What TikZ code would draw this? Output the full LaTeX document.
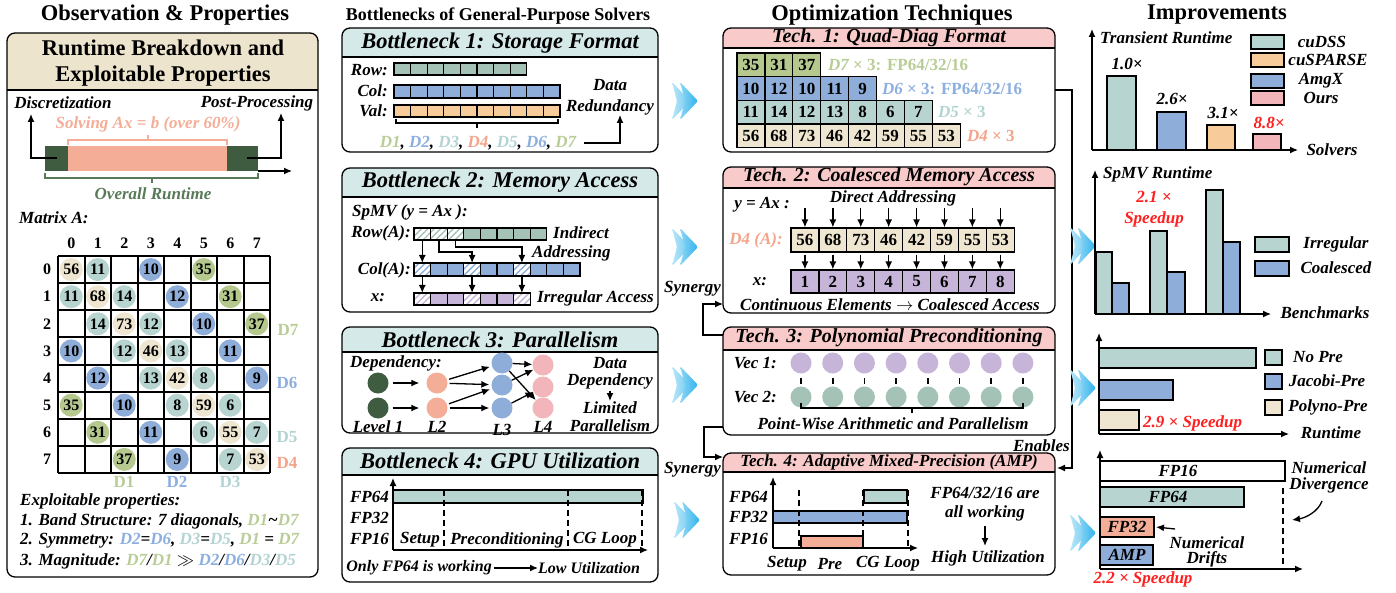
\documentclass[tikz,border=0pt]{standalone}
\usepackage{fontspec}
\setmainfont{Liberation Serif}
\usetikzlibrary{arrows.meta,patterns.meta,calc}
\definecolor{cDG}{HTML}{3F5B40}
\definecolor{cSal}{HTML}{F4AD97}
\definecolor{cSage}{HTML}{A4C2B5}
\definecolor{cBlue}{HTML}{8FADD9}
\definecolor{cOr}{HTML}{F8CB9B}
\definecolor{cPur}{HTML}{C6B5D8}
\definecolor{cPink}{HTML}{F2B5B9}
\definecolor{cTeal}{HTML}{B8D4D1}
\definecolor{cBeige}{HTML}{EFE6D1}
\definecolor{cOlive}{HTML}{B5C98F}
\definecolor{tD1}{HTML}{B9CD96}
\definecolor{tD2}{HTML}{8DAFE0}
\definecolor{tD3}{HTML}{B3D4D3}
\definecolor{tD4}{HTML}{F3A48B}
\definecolor{cGrT}{HTML}{587A58}
\definecolor{hBot}{HTML}{D5E9E9}
\definecolor{hTech}{HTML}{F8CACA}
\definecolor{hObs}{HTML}{EDE4CD}
\definecolor{cRed}{HTML}{FF1F1F}
\definecolor{cArr}{HTML}{2FB2EC}
\definecolor{cArrL}{HTML}{B8E6F8}
\newcommand{\fsz}[1]{\fontsize{#1}{#1}\selectfont}
\newcommand{\mypanel}[6]{%
  \begin{scope}
    \clip (#1,#2) rectangle (#3,#4);
    \fill[#6, rounded corners=8pt] (#1,#2) rectangle (#3,#5);
  \end{scope}
  \draw[line width=1.3pt] (#1,#4) -- (#3,#4);
  \draw[line width=1.3pt, rounded corners=8pt] (#1,#2) rectangle (#3,#5);
}
\newcommand{\chev}[2]{%
  \shade[left color=cArrL, right color=cArr!70, rounded corners=1.5pt] (#1-14,#2-19) -- (#1+4,#2) -- (#1-14,#2+19) -- (#1-9,#2) -- cycle;
  \shade[left color=cArrL!70!cArr, right color=cArr, rounded corners=1.5pt] (#1-6,#2-19) -- (#1+12,#2) -- (#1-6,#2+19) -- (#1-1,#2) -- cycle;
}
\begin{document}
\begin{tikzpicture}[x=1pt,y=-1pt,
 lb/.style={font=\bfseries\itshape\fsz{17}, inner sep=0pt},
 hb/.style={font=\bfseries\itshape\fsz{22.5}, inner sep=0pt},
 ht/.style={font=\bfseries\itshape\fsz{20}, inner sep=0pt},
 tt/.style={font=\bfseries\fsz{22.5}, inner sep=0pt},
 nm/.style={font=\bfseries\fsz{16}, inner sep=0pt},
 dl/.style={font=\bfseries\fsz{17}, inner sep=0pt},
 bx/.style={draw, line width=1.2pt},
 ar/.style={-{Latex[length=8pt,width=7pt]}, line width=1.3pt},
 dsh/.style={dash pattern=on 6pt off 4pt, line width=1.3pt},
 cellq/.style={draw, line width=1.2pt, minimum width=27.9pt, minimum height=23.7pt, inner sep=0pt, font=\bfseries\fsz{17}},
 mc/.style={circle, minimum size=23pt, inner sep=0pt, font=\bfseries\fsz{16}},
 dot/.style={circle, minimum size=21pt, inner sep=0pt},
 ]
\useasboundingbox (0,0) rectangle (1396,593);
\fill[white] (0,0) rectangle (1396,593);

% ---------- titles
\node[tt] (t1) at (165,15) {Observation \& Properties};
\node[font=\bfseries\fsz{18}, inner sep=0pt] (t2) at (498,16) {Bottlenecks of General-Purpose Solvers};
\node[tt] (t3) at (892,15) {Optimization Techniques};
\node[tt] (t4) at (1217,15) {Improvements};

% ---------- left panel
\mypanel{7}{33}{318}{90}{577}{hObs}
\node[tt] (h0a) at (163,48) {Runtime Breakdown and};
\node[tt] (h0b) at (163,76) {Exploitable Properties};

\fill[cDG] (45,146) rectangle (68,171);
\fill[cSal] (68,146) rectangle (227,171);
\fill[cDG] (227,146) rectangle (258,171);
\coordinate (dA) at (57,158);
\coordinate (dB) at (247,158);
\node[lb] (disc) at (63,103) {Discretization};
\node[lb] (post) at (257,103) {Post-Processing};
\draw[ar] (dA) -- (31,158) -- (31,114);
\draw[ar] (dB) -- (281,158) -- (281,113);
\coordinate (bE) at (258,171);
\draw[ar] (bE) -- (292,171);
\draw[cSal, line width=1.3pt] (68,145) -- (68,140) -- (227,140) -- (227,145);
\draw[cSal, line width=1.3pt] (148,140) -- (148,135);
\node[lb, text=cSal] (solv) at (148,124) {Solving Ax = b (over 60\%)};
\draw[cGrT, line width=1.3pt] (45,173) -- (45,178) -- (258,178) -- (258,173);
\draw[cGrT, line width=1.3pt] (152,178) -- (152,183);
\node[lb, text=cGrT] (overall) at (153,194) {Overall Runtime};

\node[lb, anchor=west] (matA) at (19,218) {Matrix A:};
\foreach \r/\c/\v/\cc in {0/0/56/cBeige,0/1/11/cTeal,0/3/10/cBlue,0/5/35/cOlive,
 1/0/11/cTeal,1/1/68/cBeige,1/2/14/cTeal,1/4/12/cBlue,1/6/31/cOlive,
 2/1/14/cTeal,2/2/73/cBeige,2/3/12/cTeal,2/5/10/cBlue,2/7/37/cOlive,
 3/0/10/cBlue,3/2/12/cTeal,3/3/46/cBeige,3/4/13/cTeal,3/6/11/cBlue,
 4/1/12/cBlue,4/3/13/cTeal,4/4/42/cBeige,4/5/8/cTeal,4/7/9/cBlue,
 5/0/35/cOlive,5/2/10/cBlue,5/4/8/cTeal,5/5/59/cBeige,5/6/6/cTeal,
 6/1/31/cOlive,6/3/11/cBlue,6/5/6/cTeal,6/6/55/cBeige,6/7/7/cTeal,
 7/2/37/cOlive,7/4/9/cBlue,7/6/7/cTeal,7/7/53/cBeige}
 {\node[mc, fill=\cc] (m\r\c) at (58+26.5*\c+13.25, 256+27.125*\r+13.56) {\v};}
\foreach \k in {0,...,8} {
 \draw[line width=2pt] (58+26.5*\k,256) -- (58+26.5*\k,473);
 \draw[line width=2pt] (58,256+27.125*\k) -- (270,256+27.125*\k);
}
\foreach \k in {0,...,7} {
 \node[nm] (cl\k) at (58+26.5*\k+13.25,243) {\k};
 \node[nm] (rl\k) at (47,256+27.125*\k+13.56) {\k};
}
\node[dl, text=tD1] (d7) at (288,330) {D7};
\node[dl, text=tD2] (d6) at (287,383) {D6};
\node[dl, text=tD3] (d5) at (287,437) {D5};
\node[dl, text=tD4] (d4) at (287,463) {D4};
\node[dl, text=tD1] (d1) at (124,482) {D1};
\node[dl, text=tD2] (d2) at (177,482) {D2};
\node[dl, text=tD3] (d3) at (230,482) {D3};

\node[lb, anchor=west] (ep0) at (20,501) {Exploitable properties:};
\node[lb, anchor=west] (ep1) at (20,521) {1. Band Structure: 7 diagonals, \textcolor{tD1}{D1}\textasciitilde\textcolor{tD1}{D7}};
\node[lb, anchor=west] (ep2) at (20,541) {2. Symmetry: \textcolor{tD2}{D2}=\textcolor{tD2}{D6}, \textcolor{tD3}{D3}=\textcolor{tD3}{D5}, \textcolor{tD1}{D1} = \textcolor{tD1}{D7}};
\node[lb, anchor=west] (ep3) at (20,561) {3. Magnitude: \textcolor{tD1}{D7}/\textcolor{tD1}{D1} $\gg$ \textcolor{tD2}{D2}/\textcolor{tD2}{D6}/\textcolor{tD3}{D3}/\textcolor{tD3}{D5}};

% ---------- Bottleneck 1
\mypanel{342}{28}{658}{57}{152}{hBot}
\node[hb] (b1h) at (500,43) {Bottleneck 1: Storage Format};
\node[lb, anchor=east] (rowl) at (388,70) {Row:};
\node[lb, anchor=east] (coll) at (388,91) {Col:};
\node[lb, anchor=east] (vall) at (388,111) {Val:};
\foreach \i in {0,...,7} \draw[bx, fill=cSage] (394+16.6*\i,63) rectangle ++(16.6,12);
\foreach \i in {0,...,9} \draw[bx, fill=cBlue] (394+16.6*\i,85) rectangle ++(16.6,13);
\foreach \i in {0,...,9} \draw[bx, fill=cOr] (394+16.6*\i,105) rectangle ++(16.6,12);
\draw[line width=1.3pt] (396,119) -- (396,123) -- (558,123) -- (558,119);
\draw[line width=1.3pt] (477,123) -- (477,128);
\node[lb] (dlist) at (478,143) {\textcolor{tD1}{D1}, \textcolor{tD2}{D2}, \textcolor{tD3}{D3}, \textcolor{tD4}{D4}, \textcolor{tD3}{D5}, \textcolor{tD2}{D6}, \textcolor{tD1}{D7}};
\node[lb] (dr1) at (610,85) {Data};
\node[lb] (dr2) at (610,107) {Redundancy};
\draw[ar] (dlist.east) ++(8,0) -- (620,143) -- (dr2.south -| 620,0);

% ---------- Bottleneck 2
\mypanel{342}{168}{658}{197}{312}{hBot}
\node[hb] (b2h) at (500,182) {Bottleneck 2: Memory Access};
\node[lb, anchor=west] (spmv) at (352,212) {SpMV (y = Ax ):};
\node[lb, anchor=east] (rowA) at (411,233) {Row(A):};
\node[lb, anchor=east] (colA) at (411,270) {Col(A):};
\node[lb] (xl) at (378,298) {x:};
\foreach \i in {0,...,7} \draw[bx, fill=cSage] (414+16.6*\i,228) rectangle ++(16.6,12);
\foreach \i in {0,1,2} {\fill[white] (414+16.6*\i,228) rectangle ++(16.6,12);
 \fill[pattern={Lines[angle=45,distance=4.5pt,line width=1.4pt]}, pattern color=cSage] (414+16.6*\i,228) rectangle ++(16.6,12);
 \draw[line width=1.2pt] (414+16.6*\i,228) rectangle ++(16.6,12);}
\foreach \i in {0,...,9} \draw[bx, fill=cBlue] (414+16.6*\i,263) rectangle ++(16.6,13);
\foreach \i in {0,3,6} {\fill[white] (414+16.6*\i,263) rectangle ++(16.6,13);
 \fill[pattern={Lines[angle=45,distance=4.5pt,line width=1.4pt]}, pattern color=cBlue] (414+16.6*\i,263) rectangle ++(16.6,13);
 \draw[line width=1.2pt] (414+16.6*\i,263) rectangle ++(16.6,13);}
\foreach \i in {0,...,6} \draw[bx, fill=cPur] (414+16.6*\i,293) rectangle ++(16.6,12);
\foreach \i in {0,3,6} {\fill[white] (414+16.6*\i,293) rectangle ++(16.6,12);
 \fill[pattern={Lines[angle=45,distance=4.5pt,line width=1.4pt]}, pattern color=cPur] (414+16.6*\i,293) rectangle ++(16.6,12);
 \draw[line width=1.2pt] (414+16.6*\i,293) rectangle ++(16.6,12);}
\draw[ar] (422.3,240) -- (422.3,263);
\draw[ar] (438.9,240) -- (438.9,252) -- (472.1,252) -- (472.1,263);
\draw[ar] (455.5,240) -- (455.5,247) -- (521.9,247) -- (521.9,263);
\foreach \xx in {422.3,472.1,521.9} \draw[ar] (\xx,276) -- (\xx,293);
\node[lb, anchor=west] (ind) at (553,233) {Indirect};
\node[lb, anchor=west] (addr) at (532,253) {Addressing};
\node[lb, anchor=west] (irr) at (537,298) {Irregular Access};

% ---------- Bottleneck 3
\mypanel{342}{327}{658}{352}{433}{hBot}
\node[hb] (b3h) at (500,340) {Bottleneck 3: Parallelism};
\node[lb, anchor=west] (dep) at (350,363) {Dependency:};
\node[dot, fill=cDG] (a1) at (378,383) {};
\node[dot, fill=cDG] (a2) at (378,408) {};
\node[dot, fill=cSal] (b1) at (437,383) {};
\node[dot, fill=cSal] (b2) at (437,408) {};
\node[dot, fill=cBlue] (c1) at (502,363) {};
\node[dot, fill=cBlue] (c2) at (502,385) {};
\node[dot, fill=cBlue] (c3) at (502,408) {};
\node[dot, fill=cPink] (e1) at (543,365) {};
\node[dot, fill=cPink] (e2) at (543,387) {};
\node[dot, fill=cPink] (e3) at (543,408) {};
\draw[ar, shorten <=4pt, shorten >=7pt] (a1) -- (b1);
\draw[ar, shorten <=4pt, shorten >=7pt] (a2) -- (b2);
\draw[ar, shorten <=2pt, shorten >=2pt] (b1) -- (c1);
\draw[ar, shorten <=2pt, shorten >=2pt] (b1) -- (c2);
\draw[ar, shorten <=2pt, shorten >=2pt] (b2) -- (c2);
\draw[ar, shorten <=2pt, shorten >=2pt] (b2) -- (c3);
\draw[ar] (c1) -- (e1);
\draw[ar] (c1) -- (e3);
\draw[ar] (c2) -- (e1);
\draw[ar] (c3) -- (e2);
\node[lb] (lv1) at (378,427) {Level 1};
\node[lb] (lv2) at (437,427) {L2};
\node[lb] (lv3) at (502,430) {L3};
\node[lb] (lv4) at (543,427) {L4};
\node[lb] (dd1) at (610,363) {Data};
\node[lb] (dd2) at (610,381) {Dependency};
\node[lb] (dd3) at (610,408) {Limited};
\node[lb] (dd4) at (610,426) {Parallelism};
\draw[ar] (dd2.south) ++(0,2) -- (610,401);

% ---------- Bottleneck 4
\mypanel{342}{448}{658}{475}{582}{hBot}
\node[hb] (b4h) at (500,461) {Bottleneck 4: GPU Utilization};
\coordinate (o4) at (393,550);
\draw[ar] (o4) -- (393,478);
\draw[ar] (o4) -- (648,550);
\draw[bx, fill=cTeal] (393,490) rectangle (643,503);
\foreach \xx in {444,568,642} \draw[dsh] (\xx,490) -- (\xx,550);
\node[lb, anchor=east] (g64) at (389,497) {FP64};
\node[lb, anchor=east] (g32) at (389,518) {FP32};
\node[lb, anchor=east] (g16) at (389,539) {FP16};
\node[lb] (gs) at (420,540) {Setup};
\node[lb] (gp) at (507,540) {Preconditioning};
\node[lb] (gc) at (605,540) {CG Loop};
\node[lb, font=\bfseries\itshape\fsz{16}, anchor=east] (only) at (492,568) {Only FP64 is working};
\node[lb, font=\bfseries\itshape\fsz{16}, anchor=west] (lowu) at (538,568) {Low Utilization};
\draw[ar] (only.east) ++(2,0) -- (lowu.west);

% ---------- chevrons
\chev{686}{101}
\chev{686}{247}
\chev{686}{385}
\chev{688}{520}

% ---------- Tech 1
\mypanel{723}{28}{1055}{48}{152}{hTech}
\node[ht] (t1h) at (889,38) {Tech. 1: Quad-Diag Format};
\foreach \v [count=\i from 0] in {35,31,37} \node[cellq, fill=cOlive] (qa\i) at (737+27.9*\i+13.95,64.85) {\v};
\foreach \v [count=\i from 0] in {10,12,10,11,9} \node[cellq, fill=cBlue] (qb\i) at (737+27.9*\i+13.95,88.55) {\v};
\foreach \v [count=\i from 0] in {11,14,12,13,8,6,7} \node[cellq, fill=cTeal] (qc\i) at (737+27.9*\i+13.95,112.25) {\v};
\foreach \v [count=\i from 0] in {56,68,73,46,42,59,55,53} \node[cellq, fill=cBeige] (qd\i) at (737+27.9*\i+13.95,135.95) {\v};
\node[lb, anchor=west, text=tD1] (q7) at (828,65) {D7 \upshape× 3: FP64/32/16};
\node[lb, anchor=west, text=tD2] (q6) at (882,88.5) {D6 \upshape× 3: FP64/32/16};
\node[lb, anchor=west, text=tD3] (q5) at (938,112) {D5 \upshape× 3};
\node[lb, anchor=west, text=tD4] (q4) at (967,136) {D4 \upshape× 3};

% ---------- Tech 2
\mypanel{723}{167}{1055}{188}{313}{hTech}
\node[ht] (t2h) at (889,177) {Tech. 2: Coalesced Memory Access};
\node[lb] (yax) at (762,205) {y = Ax :};
\node[lb] (diradd) at (893,198) {Direct Addressing};
\node[lb, anchor=east, text=tD4] (d4a) at (783,240) {D4 (A):};
\node[lb] (x2) at (760,282) {x:};
\foreach \v [count=\i from 0] in {56,68,73,46,42,59,55,53} {
 \node[cellq, fill=cBeige, minimum height=24pt] (pa\i) at (791+27.9*\i+13.95,240) {\v};
 \node[cellq, fill=cPur, minimum height=23pt] (pb\i) at (791+27.9*\i+13.95,281.5) {\number\numexpr\i+1\relax};
 \draw[ar] (791+27.9*\i+13.95,208) -- (pa\i.north);
 \draw[ar] (pa\i.south) ++(0,2) -- (pb\i.north);
}
\node[lb] (cont) at (890,305) {Continuous Elements $\rightarrow$ Coalesced Access};

% ---------- Tech 3
\mypanel{723}{327}{1055}{350}{435}{hTech}
\node[ht] (t3h) at (889,338) {Tech. 3: Polynomial Preconditioning};
\node[lb, anchor=east] (v1) at (777,363) {Vec 1:};
\node[lb, anchor=east] (v2) at (777,397) {Vec 2:};
\foreach \i in {0,...,7} {
 \node[dot, fill=cPur] (va\i) at (801+31.7*\i,363) {};
 \node[dot, fill=cSage] (vb\i) at (801+31.7*\i,397) {};
 \draw[line width=1.6pt] (801+31.7*\i,378) -- (801+31.7*\i,384);
}
\draw[line width=1.3pt] (801,403) -- (801,408) -- (1023,408) -- (1023,403);
\draw[line width=1.3pt] (912,408) -- (912,413);
\node[lb] (pw) at (893,424) {Point-Wise Arithmetic and Parallelism};

% ---------- Tech 4
\mypanel{723}{453}{1055}{472}{575}{hTech}
\node[font=\bfseries\itshape\fsz{17}, inner sep=0pt] (t4h) at (889,462) {Tech. 4: Adaptive Mixed-Precision (AMP)};
\coordinate (o5) at (773,548);
\draw[ar] (o5) -- (773,477);
\draw[ar] (o5) -- (918,548);
\draw[bx, fill=cTeal] (864,490) rectangle (907,503);
\draw[bx, fill=cBlue] (773,511) rectangle (907,523);
\draw[bx, fill=cSal] (801,536) rectangle (863,548);
\foreach \xx in {799,863,908} \draw[dsh] (\xx,490) -- (\xx,548);
\node[lb, anchor=east] (h64) at (768,497) {FP64};
\node[lb, anchor=east] (h32) at (768,517) {FP32};
\node[lb, anchor=east] (h16) at (768,539) {FP16};
\node[lb] (hs) at (787,564) {Setup};
\node[lb] (hp) at (830,564) {Pre};
\node[lb] (hc) at (888,564) {CG Loop};
\node[lb] (fw1) at (985,493) {FP64/32/16 are};
\node[lb] (fw2) at (985,513) {all working};
\node[lb] (fw3) at (988,558) {High Utilization};
\draw[ar] (985,526) -- (985,546);

% ---------- connectors between techs
\coordinate (en1) at (1072,90);
\coordinate (en2) at (1072,468);
\draw[ar] (1055,90) -- (en1) -- (en2) -- (1057,468);
\node[lb, anchor=east] (enab) at (1070,446) {Enables};
\coordinate (s1a) at (703,335);
\coordinate (s1b) at (703,304);
\draw[ar] (723,335) -- (s1a) -- (s1b) -- (723,304);
\node[lb, anchor=east] (syn1) at (721,289) {Synergy};
\coordinate (s2a) at (704,427);
\coordinate (s2b) at (704,457);
\draw[ar] (723,427) -- (s2a) -- (s2b) -- (723,457);
\node[lb, anchor=east] (syn2) at (721,470) {Synergy};

\chev{1084}{246}
\chev{1084}{388}
\chev{1084}{533}

% ---------- Improvements chart 1
\coordinate (o1) at (1092,150);
\draw[ar] (o1) -- (1092,29);
\draw[ar] (o1) -- (1298,150);
\node[lb, anchor=west] (trr) at (1100,38) {Transient Runtime};
\draw[bx, fill=cTeal] (1107,150) rectangle (1136,76);
\draw[bx, fill=cBlue] (1157,150) rectangle (1186,112);
\draw[bx, fill=cOr] (1207,150) rectangle (1235,125);
\draw[bx, fill=cPink] (1253,150) rectangle (1281,134);
\node[lb] (s10) at (1127,64) {1.0×};
\node[lb] (s26) at (1172,99) {2.6×};
\node[lb] (s31) at (1223,113) {3.1×};
\node[lb, text=cRed] (s88) at (1269,123) {8.8×};
\draw[bx, fill=cTeal] (1251,35) rectangle (1284,49);
\draw[bx, fill=cOr] (1251,53) rectangle (1284,67);
\draw[bx, fill=cBlue] (1251,74) rectangle (1284,88);
\draw[bx, fill=cPink] (1251,91) rectangle (1284,105);
\node[lb] (lg1) at (1322,42) {cuDSS};
\node[lb] (lg2) at (1328,60) {cuSPARSE};
\node[lb] (lg3) at (1321,81) {AmgX};
\node[lb] (lg4) at (1321,98) {Ours};
\node[lb] (solvers) at (1332,150) {Solvers};

% ---------- chart 2
\coordinate (o2) at (1095,314);
\draw[ar] (o2) -- (1095,170);
\draw[ar] (o2) -- (1271,314);
\node[lb, anchor=west] (spr) at (1103,174) {SpMV Runtime};
\draw[bx, fill=cTeal] (1096,314) rectangle (1112,252);
\draw[bx, fill=cBlue] (1112,314) rectangle (1129,283);
\draw[bx, fill=cTeal] (1150,314) rectangle (1167,231);
\draw[bx, fill=cBlue] (1167,314) rectangle (1185,272);
\draw[bx, fill=cTeal] (1206,314) rectangle (1223,190);
\draw[bx, fill=cBlue] (1223,314) rectangle (1240,242);
\node[lb, text=cRed] (sp21a) at (1154,197) {2.1 ×};
\node[lb, text=cRed] (sp21b) at (1154,219) {Speedup};
\draw[bx, fill=cTeal] (1255,237) rectangle (1289,252);
\draw[bx, fill=cBlue] (1255,261) rectangle (1289,276);
\node[lb] (irl) at (1336,244) {Irregular};
\node[lb] (coa) at (1336,268) {Coalesced};
\node[lb] (bench) at (1325,313) {Benchmarks};

% ---------- chart 3
\coordinate (o3) at (1099,434);
\draw[ar] (o3) -- (1099,333);
\draw[ar] (o3) -- (1289,434);
\draw[bx, fill=cTeal] (1099,348) rectangle (1256,368);
\draw[bx, fill=cBlue] (1099,380) rectangle (1173,400);
\draw[bx, fill=cBeige] (1099,410) rectangle (1139,430);
\node[lb, anchor=west, text=cRed] (sp29) at (1143,423) {2.9 × Speedup};
\draw[bx, fill=cTeal] (1265,350) rectangle (1282,365);
\draw[bx, fill=cBlue] (1265,374) rectangle (1282,389);
\draw[bx, fill=cBeige] (1265,400) rectangle (1282,415);
\node[lb] (np) at (1318,357) {No Pre};
\node[lb] (jp) at (1327,381) {Jacobi-Pre};
\node[lb] (pp) at (1328,407) {Polyno-Pre};
\node[lb] (rt3) at (1331,433) {Runtime};

% ---------- chart 4
\coordinate (o6) at (1100,569);
\draw[ar] (o6) -- (1100,450);
\draw[ar] (o6) -- (1303,569);
\draw[bx, fill=white] (1100,461) rectangle (1285,481);
\draw[bx, fill=cTeal] (1100,487) rectangle (1244,507);
\draw[bx, fill=cSal] (1100,517) rectangle (1154,537);
\draw[bx, fill=cBlue] (1100,545) rectangle (1153,565);
\node[lb] (f16) at (1178,471) {FP16};
\node[lb] (f64) at (1168,497) {FP64};
\node[lb] (f32) at (1127,527) {FP32};
\node[lb] (famp) at (1127,555) {AMP};
\draw[dsh] (1283,488) -- (1283,569);
\node[lb] (nd1) at (1329,468) {Numerical};
\node[lb] (nd2) at (1329,485) {Divergence};
\draw[ar] (1322,501) .. controls (1318,512) and (1305,518) .. (1292,520);
\node[lb] (dr1n) at (1207,543) {Numerical};
\node[lb] (dr2n) at (1207,559) {Drifts};
\draw[ar] (1175,529) -- (f32.east -| 1156,0);
\node[lb, text=cRed] (sp22) at (1143,579) {2.2 × Speedup};
\end{tikzpicture}
\end{document}
